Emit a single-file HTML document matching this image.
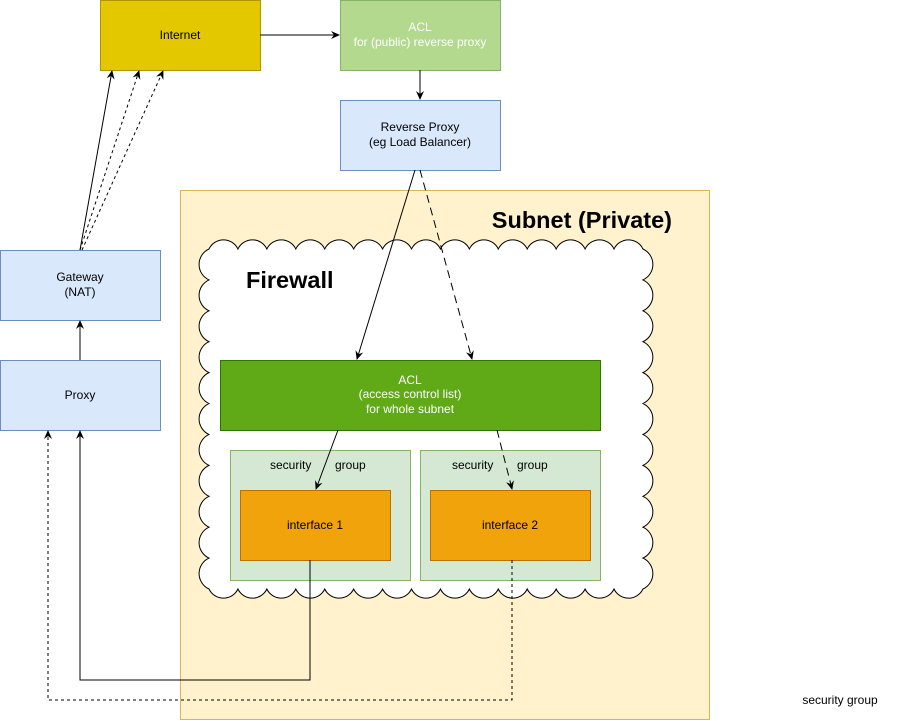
<!DOCTYPE html>
<html><head><meta charset="utf-8"><style>
body{margin:0;background:#fff}
svg{display:block;font-family:"Liberation Sans",Helvetica,Arial,sans-serif}
</style></head><body>
<svg width="921" height="721" viewBox="0 0 921 721" xmlns="http://www.w3.org/2000/svg">
<defs>
<marker id="a" markerWidth="10" markerHeight="10" refX="8" refY="5" orient="auto" markerUnits="userSpaceOnUse">
<path d="M0,1 L9,5 L0,9 L3,5 Z" fill="#000"/></marker>
</defs>
<rect x="180.5" y="190.5" width="529" height="529" fill="#fff2cc" stroke="#d6b656"/>
<text x="672" y="228" font-size="23.5" font-weight="bold" text-anchor="end">Subnet (Private)</text>
<path fill="#fff" stroke="#000" stroke-width="1" d="M209,249
a16 16 0 0 1 28.93 0 a16 16 0 0 1 28.93 0 a16 16 0 0 1 28.93 0 a16 16 0 0 1 28.93 0 a16 16 0 0 1 28.93 0
a16 16 0 0 1 28.93 0 a16 16 0 0 1 28.93 0 a16 16 0 0 1 28.93 0 a16 16 0 0 1 28.93 0 a16 16 0 0 1 28.93 0
a16 16 0 0 1 28.93 0 a16 16 0 0 1 28.93 0 a16 16 0 0 1 28.93 0 a16 16 0 0 1 28.93 0 a16 16 0 0 1 28.93 0
a17 17 0 0 1 0 30.91 a17 17 0 0 1 0 30.91 a17 17 0 0 1 0 30.91 a17 17 0 0 1 0 30.91 a17 17 0 0 1 0 30.91
a17 17 0 0 1 0 30.91 a17 17 0 0 1 0 30.91 a17 17 0 0 1 0 30.91 a17 17 0 0 1 0 30.91 a17 17 0 0 1 0 30.91 a17 17 0 0 1 0 30.91
a16 16 0 0 1 -28.93 0 a16 16 0 0 1 -28.93 0 a16 16 0 0 1 -28.93 0 a16 16 0 0 1 -28.93 0 a16 16 0 0 1 -28.93 0
a16 16 0 0 1 -28.93 0 a16 16 0 0 1 -28.93 0 a16 16 0 0 1 -28.93 0 a16 16 0 0 1 -28.93 0 a16 16 0 0 1 -28.93 0
a16 16 0 0 1 -28.93 0 a16 16 0 0 1 -28.93 0 a16 16 0 0 1 -28.93 0 a16 16 0 0 1 -28.93 0 a16 16 0 0 1 -28.93 0
a17 17 0 0 1 0 -30.91 a17 17 0 0 1 0 -30.91 a17 17 0 0 1 0 -30.91 a17 17 0 0 1 0 -30.91 a17 17 0 0 1 0 -30.91
a17 17 0 0 1 0 -30.91 a17 17 0 0 1 0 -30.91 a17 17 0 0 1 0 -30.91 a17 17 0 0 1 0 -30.91 a17 17 0 0 1 0 -30.91 a17 17 0 0 1 0 -30.91 Z"/>
<text x="246" y="288" font-size="23.5" font-weight="bold">Firewall</text>

<rect x="100.5" y="0.5" width="160" height="70" fill="#e3c800" stroke="#b09500"/>
<text x="180" y="39" font-size="12" text-anchor="middle">Internet</text>
<rect x="340.5" y="0.5" width="160" height="70" fill="#b3d98f" stroke="#82b366"/>
<text x="420" y="31" font-size="12" text-anchor="middle" fill="#fff">ACL</text>
<text x="420" y="46" font-size="12" text-anchor="middle" fill="#fff">for (public) reverse proxy</text>
<rect x="340.5" y="100.5" width="160" height="70" fill="#dae8fc" stroke="#6c8ebf"/>
<text x="420" y="131" font-size="12" text-anchor="middle">Reverse Proxy</text>
<text x="420" y="146" font-size="12" text-anchor="middle">(eg Load Balancer)</text>
<rect x="0.5" y="250.5" width="160" height="70" fill="#dae8fc" stroke="#6c8ebf"/>
<text x="80" y="281" font-size="12" text-anchor="middle">Gateway</text>
<text x="80" y="296" font-size="12" text-anchor="middle">(NAT)</text>
<rect x="0.5" y="360.5" width="160" height="70" fill="#dae8fc" stroke="#6c8ebf"/>
<text x="80" y="399" font-size="12" text-anchor="middle">Proxy</text>

<rect x="220.5" y="360.5" width="380" height="70" fill="#60a917" stroke="#2d7600"/>
<text x="410" y="384" font-size="12" text-anchor="middle" fill="#fff">ACL</text>
<text x="410" y="398" font-size="12" text-anchor="middle" fill="#fff">(access control list)</text>
<text x="410" y="413" font-size="12" text-anchor="middle" fill="#fff">for whole subnet</text>

<rect x="230.5" y="450.5" width="180" height="130" fill="#d5e8d4" stroke="#82b366"/>
<text x="270" y="469" font-size="12">security</text><text x="335" y="469" font-size="12">group</text>
<rect x="420.5" y="450.5" width="180" height="130" fill="#d5e8d4" stroke="#82b366"/>
<text x="452" y="469" font-size="12">security</text><text x="517" y="469" font-size="12">group</text>
<rect x="240.5" y="490.5" width="150" height="70" fill="#f0a30a" stroke="#bd7000"/>
<text x="315" y="529" font-size="12" text-anchor="middle">interface 1</text>
<rect x="430.5" y="490.5" width="160" height="70" fill="#f0a30a" stroke="#bd7000"/>
<text x="510" y="529" font-size="12" text-anchor="middle">interface 2</text>

<text x="840" y="704" font-size="12" text-anchor="middle">security group</text>

<g stroke="#000" fill="none" stroke-width="1">
<line x1="260" y1="35" x2="339" y2="35" marker-end="url(#a)"/>
<line x1="420" y1="70" x2="420" y2="99" marker-end="url(#a)"/>
<line x1="415" y1="170" x2="357" y2="359" marker-end="url(#a)"/>
<line x1="420" y1="170" x2="472" y2="359" stroke-dasharray="8,5" marker-end="url(#a)"/>
<line x1="338" y1="430" x2="316" y2="489" marker-end="url(#a)"/>
<line x1="497" y1="430" x2="512" y2="489" stroke-dasharray="8,5" marker-end="url(#a)"/>
<line x1="80" y1="250" x2="112" y2="71" marker-end="url(#a)"/>
<line x1="80" y1="250" x2="139" y2="71" stroke-dasharray="3,3" marker-end="url(#a)"/>
<line x1="82" y1="250" x2="163" y2="71" stroke-dasharray="3,3" marker-end="url(#a)"/>
<line x1="80" y1="360" x2="80" y2="321" marker-end="url(#a)"/>
<polyline points="310,560 310,680 80,680 80,431" marker-end="url(#a)"/>
<polyline points="512,560 512,700 48,700 48,431" stroke-dasharray="3,3" marker-end="url(#a)"/>
</g>
</svg>
</body></html>
